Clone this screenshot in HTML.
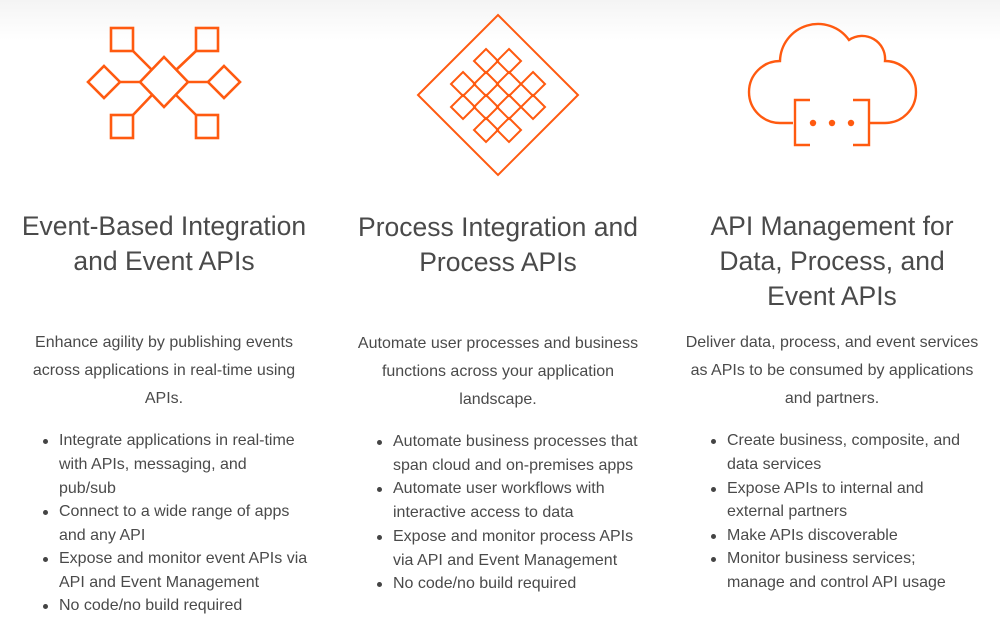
<!DOCTYPE html>
<html><head><meta charset="utf-8"><style>
body{margin:0;width:1000px;height:626px;position:relative;overflow:hidden;background:linear-gradient(#f4f4f4 0px,#fff 40px,#fff 100%);font-family:"Liberation Sans",sans-serif;color:#4a4a4a}
.t{position:absolute;white-space:nowrap;font-size:26.5px;line-height:35px;color:#4a4a4a;text-align:center;transform:translateX(-50%)}
.b{position:absolute;white-space:nowrap;font-size:16px;line-height:28px;text-align:center;transform:translateX(-50%)}
.l{position:absolute;white-space:nowrap;font-size:16px;line-height:24px}
.d{position:absolute;width:5px;height:5px;border-radius:50%;background:#444}
svg{position:absolute;left:0;top:0}
</style></head><body>
<svg width="1000" height="200" fill="none" stroke="#ff5a10" stroke-width="2.6">
<path d="M164 57 L188 82 L164 107 L140 82 Z"/>
<rect x="111" y="28" width="22" height="23"/><rect x="196" y="28" width="22" height="23"/>
<rect x="111" y="115" width="22" height="23"/><rect x="196" y="115" width="22" height="23"/>
<path d="M104 66 L120 82 L104 98 L88 82 Z"/><path d="M224 66 L240 82 L224 98 L208 82 Z"/>
<path d="M120 82 H140 M188 82 H208 M133 51 L152 70 M196 51 L176 70 M133 115 L152 95 M196 115 L176 95"/>
<g stroke-width="2">
<path d="M498 15 L578 95 L498 175 L418 95 Z"/>
<path d="M486 49 L498 61 L486 73 L474 61 Z"/><path d="M509 49 L521 61 L509 73 L497 61 Z"/>
<path d="M463 72 L475 84 L463 96 L451 84 Z"/><path d="M486 72 L498 84 L486 96 L474 84 Z"/><path d="M509 72 L521 84 L509 96 L497 84 Z"/><path d="M533 72 L545 84 L533 96 L521 84 Z"/>
<path d="M463 95 L475 107 L463 119 L451 107 Z"/><path d="M486 95 L498 107 L486 119 L474 107 Z"/><path d="M509 95 L521 107 L509 119 L497 107 Z"/><path d="M533 95 L545 107 L533 119 L521 107 Z"/>
<path d="M486 118 L498 130 L486 142 L474 130 Z"/><path d="M509 118 L521 130 L509 142 L497 130 Z"/>
</g>
<path d="M793 123 H780 A31 31 0 0 1 780 61 A38 38 0 0 1 849 40 A23 23 0 0 1 885 61 A31 31 0 0 1 885 123 H870" stroke-width="2.4"/>
<path d="M810 100 H795 V145 H810 M853 100 H869 V145 H853" stroke-width="2.4"/>
<g fill="#ff5a10" stroke="none"><circle cx="813" cy="123" r="3.2"/><circle cx="832" cy="123" r="3.2"/><circle cx="851" cy="123" r="3.2"/></g>
</svg>

<div class="t" style="left:164px;top:209px">Event-Based Integration</div>
<div class="t" style="left:164px;top:244px">and Event APIs</div>
<div class="t" style="left:498px;top:210px">Process Integration and</div>
<div class="t" style="left:498px;top:245px">Process APIs</div>
<div class="t" style="left:832px;top:209px">API Management for</div>
<div class="t" style="left:832px;top:244px">Data, Process, and</div>
<div class="t" style="left:832px;top:279px">Event APIs</div>

<div class="b" style="left:164px;top:329px">Enhance agility by publishing events</div>
<div class="b" style="left:164px;top:357px">across applications in real-time using</div>
<div class="b" style="left:164px;top:385px">APIs.</div>
<div class="b" style="left:498px;top:330px">Automate user processes and business</div>
<div class="b" style="left:498px;top:358px">functions across your application</div>
<div class="b" style="left:498px;top:386px">landscape.</div>
<div class="b" style="left:832px;top:329px">Deliver data, process, and event services</div>
<div class="b" style="left:832px;top:357px">as APIs to be consumed by applications</div>
<div class="b" style="left:832px;top:385px">and partners.</div>

<div class="d" style="left:43px;top:439px"></div><div class="l" style="left:59px;top:429px">Integrate applications in real-time</div>
<div class="l" style="left:59px;top:453px">with APIs, messaging, and</div>
<div class="l" style="left:59px;top:477px">pub/sub</div>
<div class="d" style="left:43px;top:510px"></div><div class="l" style="left:59px;top:500px">Connect to a wide range of apps</div>
<div class="l" style="left:59px;top:524px">and any API</div>
<div class="d" style="left:43px;top:557px"></div><div class="l" style="left:59px;top:547px">Expose and monitor event APIs via</div>
<div class="l" style="left:59px;top:571px">API and Event Management</div>
<div class="d" style="left:43px;top:604px"></div><div class="l" style="left:59px;top:594px">No code/no build required</div>

<div class="d" style="left:377px;top:440px"></div><div class="l" style="left:393px;top:430px">Automate business processes that</div>
<div class="l" style="left:393px;top:454px">span cloud and on-premises apps</div>
<div class="d" style="left:377px;top:487px"></div><div class="l" style="left:393px;top:477px">Automate user workflows with</div>
<div class="l" style="left:393px;top:501px">interactive access to data</div>
<div class="d" style="left:377px;top:535px"></div><div class="l" style="left:393px;top:525px">Expose and monitor process APIs</div>
<div class="l" style="left:393px;top:549px">via API and Event Management</div>
<div class="d" style="left:377px;top:582px"></div><div class="l" style="left:393px;top:572px">No code/no build required</div>

<div class="d" style="left:711px;top:439px"></div><div class="l" style="left:727px;top:429px">Create business, composite, and</div>
<div class="l" style="left:727px;top:453px">data services</div>
<div class="d" style="left:711px;top:487px"></div><div class="l" style="left:727px;top:477px">Expose APIs to internal and</div>
<div class="l" style="left:727px;top:500px">external partners</div>
<div class="d" style="left:711px;top:534px"></div><div class="l" style="left:727px;top:524px">Make APIs discoverable</div>
<div class="d" style="left:711px;top:557px"></div><div class="l" style="left:727px;top:547px">Monitor business services;</div>
<div class="l" style="left:727px;top:571px">manage and control API usage</div>
</body></html>
